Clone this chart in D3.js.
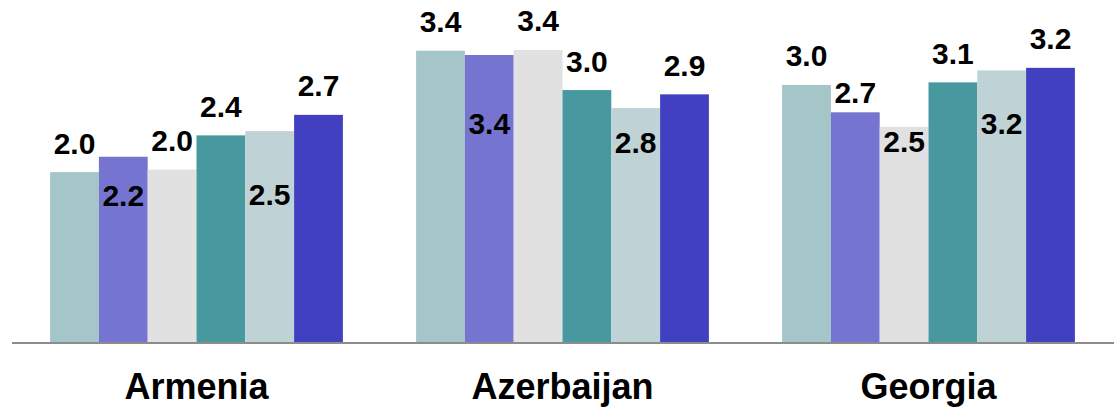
<!DOCTYPE html>
<html>
<head>
<meta charset="utf-8">
<script src="https://cdn.jsdelivr.net/npm/d3@7"></script>
<style>
  html, body { margin: 0; padding: 0; background: #fff; }
  svg { display: block; }
</style>
</head>
<body>
<svg id="chart" width="1118" height="409"></svg>
<script>
// ---- data ----
const categories = ["Armenia", "Azerbaijan", "Georgia"];
const seriesNames = ["Series 1", "Series 2", "Series 3", "Series 4", "Series 5", "Series 6"];
const series1 = [2.01, 3.43, 3.03];
const series2 = [2.19, 3.38, 2.71];
const series3 = [2.04, 3.44, 2.54];
const series4 = [2.44, 2.97, 3.06];
const series5 = [2.49, 2.76, 3.20];
const series6 = [2.68, 2.92, 3.23];

// ---- layout / style (kept separate from data) ----
const colors = ["#A5C6C9", "#7674D1", "#E1E1E1", "#47989F", "#BFD3D7", "#4040C0"];
// vertical offset of each value label's baseline relative to its bar top (px)
const labelDy = [
  [-18.5, -18.5, -18.5],
  [49, 79, -9.4],
  [-18.5, -18.5, 25.4],
  [-18.5, -18.5, -18.5],
  [74, 45, 63.3],
  [-18.5, -18.5, -18.5]
];

const allSeries = [series1, series2, series3, series4, series5, series6];

const svg = d3.select("#chart");

const x0 = d3.scaleBand()
  .domain(categories)
  .range([13.5, 1111.5])
  .paddingInner(0.2)
  .paddingOuter(0.1);

const x1 = d3.scaleBand()
  .domain(d3.range(allSeries.length))
  .range([0, x0.bandwidth()])
  .padding(0);

const y = d3.scaleLinear()
  .domain([0, 4])
  .range([344, 2]);

const rows = [];
categories.forEach((c, ci) => {
  allSeries.forEach((s, si) => {
    rows.push({ cat: c, ci, si, value: s[ci] });
  });
});

const g = svg.append("g");

g.selectAll("rect.bar")
  .data(rows)
  .join("rect")
  .attr("class", "bar")
  .attr("x", d => x0(d.cat) + x1(d.si))
  .attr("width", x1.bandwidth())
  .attr("y", d => y(d.value))
  .attr("height", d => y(0) - y(d.value))
  .attr("fill", d => colors[d.si]);

g.selectAll("text.val")
  .data(rows)
  .join("text")
  .attr("class", "val")
  .attr("x", d => x0(d.cat) + x1(d.si) + x1.bandwidth() / 2)
  .attr("y", d => y(d.value) + labelDy[d.si][d.ci])
  .attr("text-anchor", "middle")
  .attr("font-family", "'Liberation Sans', Arial, sans-serif")
  .attr("font-weight", "bold")
  .attr("font-size", 30)
  .attr("fill", "#000")
  .text(d => d.value.toFixed(1));

// baseline axis
const xAxis = d3.axisBottom(x0).tickSize(0).tickPadding(0);
const axisG = svg.append("g")
  .attr("transform", `translate(0,${y(0) - 1})`)
  .call(xAxis);
axisG.select(".domain").remove();
axisG.append("line")
  .attr("x1", 12).attr("x2", 1114)
  .attr("y1", 0).attr("y2", 0)
  .attr("stroke", "#8C8C8C")
  .attr("stroke-width", 2.2);
axisG.selectAll(".tick text")
  .attr("y", 56)
  .attr("dy", 0)
  .attr("font-family", "'Liberation Sans', Arial, sans-serif")
  .attr("font-weight", "bold")
  .attr("font-size", 36)
  .attr("fill", "#000");
</script>
</body>
</html>
